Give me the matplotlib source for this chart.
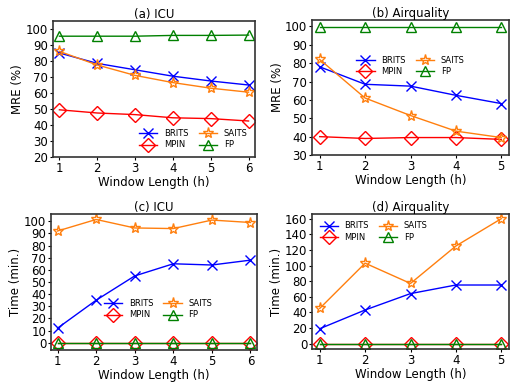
import numpy as np
import matplotlib
matplotlib.use('Agg')
import matplotlib.pyplot as plt

# 数据
x_icu = [1, 2, 3, 4, 5, 6]
x_air = [1, 2, 3, 4, 5]

mre_icu_brits = [85, 78.5, 74.5, 70.5, 67.5, 65]
mre_icu_saits = [86, 77.5, 71, 66.5, 63, 60.5]
mre_icu_mpin = [49.5, 47.5, 46.5, 44.5, 44, 42.5]
mre_icu_fp = [95.5, 95.5, 95.5, 96, 96, 96.2]

mre_air_brits = [78, 68.5, 67.5, 62.5, 58]
mre_air_saits = [82, 61, 51.5, 43, 39.5]
mre_air_mpin = [40, 39, 39.5, 39.5, 38.5]
mre_air_fp = [99.5, 99.5, 99.5, 99.5, 99.5]

time_icu_brits = [12, 35, 55, 65, 64, 68]
time_icu_saits = [92, 101.5, 94.5, 94, 101, 99]
time_icu_mpin = [0, 0, 0, 0, 0, 0]
time_icu_fp = [0, 0, 0, 0, 0, 0]

time_air_brits = [19, 43, 64, 75, 75]
time_air_saits = [45, 103, 77, 125, 160]
time_air_mpin = [0, 0, 0, 0, 0]
time_air_fp = [0, 0, 0, 0, 0]

W, H = 511, 383
fig = plt.figure(figsize=(W / 100, H / 100), dpi=100)


def make_ax(l, t, r, b):
    return fig.add_axes([l / W, 1 - b / H, (r - l) / W, (b - t) / H])


def draw(ax, x, brits, saits, mpin, fp, title, ylabel, ylim, yticks, legend_kw):
    ax.plot(x, brits, color='blue', marker='x', ms=7, mfc='none', lw=1, label='BRITS')
    ax.plot(x, mpin, color='red', marker='D', ms=7, mfc='none', lw=1, label='MPIN')
    ax.plot(x, saits, color='#ff7f0e', marker='*', ms=8, mfc='none', lw=1, label='SAITS')
    ax.plot(x, fp, color='green', marker='^', ms=7, mfc='none', lw=1, label='FP')
    ax.set_title(title, fontsize=8.5, pad=2)
    ax.set_ylabel(ylabel, fontsize=8.5, labelpad=1)
    ax.set_xlabel('Window Length (h)', fontsize=8.5, labelpad=1)
    ax.set_ylim(*ylim)
    ax.set_yticks(yticks)
    ax.set_xticks(x)
    ax.set_xlim(x[0] - 0.17, x[-1] + 0.17)
    ax.tick_params(labelsize=8.5, length=2.5, pad=1)
    for s in ax.spines.values():
        s.set_color('#333333')
        s.set_linewidth(1.2)
    ax.legend(ncol=2, frameon=False, fontsize=6, handlelength=2.2,
              columnspacing=1.2, labelspacing=0.3, **legend_kw)


ax_a = make_ax(53, 21, 255, 157)
draw(ax_a, x_icu, mre_icu_brits, mre_icu_saits, mre_icu_mpin, mre_icu_fp,
     '(a) ICU', 'MRE (%)', (20, 105), range(20, 101, 10),
     dict(loc='lower right', bbox_to_anchor=(1.0, 0.0)))

ax_b = make_ax(312, 20, 509, 155)
draw(ax_b, x_air, mre_air_brits, mre_air_saits, mre_air_mpin, mre_air_fp,
     '(b) Airquality', 'MRE (%)', (30, 103.5), range(30, 101, 10),
     dict(loc='upper center', bbox_to_anchor=(0.5, 0.79)))

ax_c = make_ax(51, 214, 257, 350)
draw(ax_c, x_icu, time_icu_brits, time_icu_saits, time_icu_mpin, time_icu_fp,
     '(c) ICU', 'Time (min.)', (-6, 106), range(0, 101, 10),
     dict(loc='center', bbox_to_anchor=(0.52, 0.30)))

ax_d = make_ax(312, 214, 509, 349)
draw(ax_d, x_air, time_air_brits, time_air_saits, time_air_mpin, time_air_fp,
     '(d) Airquality', 'Time (min.)', (-7, 166), range(0, 161, 20),
     dict(loc='upper left', bbox_to_anchor=(0.0, 1.0)))

fig.savefig('out.png', dpi=100)
